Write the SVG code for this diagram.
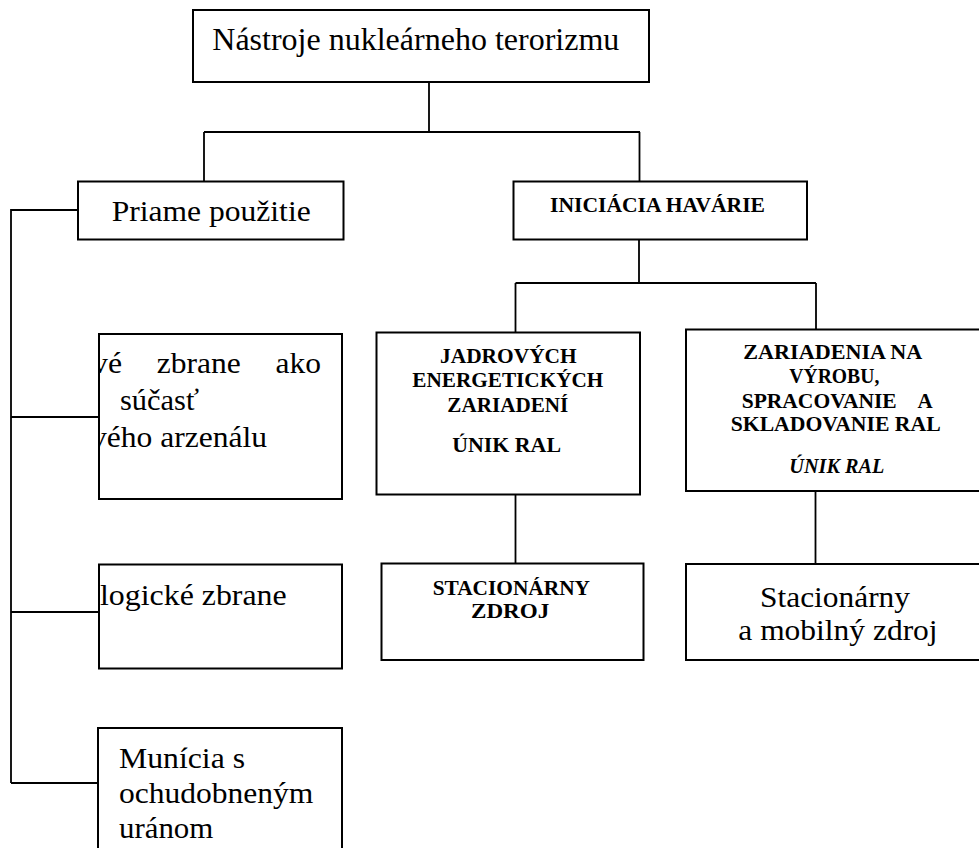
<svg xmlns="http://www.w3.org/2000/svg" width="979" height="848" viewBox="0 0 979 848">
<style>
.box{fill:#fff;stroke:#000;stroke-width:2}
.con{fill:none;stroke:#000;stroke-width:1.8}
.r{font-family:"Liberation Serif","Times New Roman",serif;font-size:30px;fill:#000}
.t{font-family:"Liberation Serif","Times New Roman",serif;font-size:31px;fill:#000}
.b{font-family:"Liberation Serif","Times New Roman",serif;font-size:21px;font-weight:bold;fill:#000}
.bi{font-family:"Liberation Serif","Times New Roman",serif;font-size:21px;font-weight:bold;font-style:italic;fill:#000}
</style>
<defs>
<clipPath id="clip1"><rect x="99" y="334" width="243" height="165"/></clipPath>
</defs>
<rect width="979" height="848" fill="#fff"/>
<g id="connectors">
<path class="con" d="M429 82 V132 M204 132 H640 M204 132 V181.5 M639.5 132 V181.5"/>
<path class="con" d="M78 210 H11 V783 M11 417 H99 M11 612 H99 M11 783 H98"/>
<path class="con" d="M639 239.5 V283 M515.5 283 H816 M515.5 283 V332.5 M816 283 V329.5"/>
<path class="con" d="M515.5 494.5 V563.5 M815.5 491 V564"/>
</g>
<g id="n-top">
<rect class="box" x="193" y="10" width="456" height="72"/>
<text class="t" x="212.3" y="50" textLength="407" lengthAdjust="spacingAndGlyphs">Nástroje nukleárneho terorizmu</text>
</g>
<g id="n-priame">
<rect class="box" x="78" y="181.5" width="265.5" height="58"/>
<text class="r" x="111.7" y="220.5" textLength="199" lengthAdjust="spacingAndGlyphs">Priame použitie</text>
</g>
<g id="n-iniciacia">
<rect class="box" x="513.5" y="181.5" width="293.5" height="58"/>
<text class="b" x="550" y="211.7" textLength="215" lengthAdjust="spacingAndGlyphs">INICIÁCIA HAVÁRIE</text>
</g>
<g id="n-jadrovych">
<rect class="box" x="376.5" y="332.5" width="263.5" height="162"/>
<text class="b" x="440" y="363.3" textLength="136.7" lengthAdjust="spacingAndGlyphs">JADROVÝCH</text>
<text class="b" x="412.3" y="387.3" textLength="191" lengthAdjust="spacingAndGlyphs">ENERGETICKÝCH</text>
<text class="b" x="447.3" y="411.7" textLength="121" lengthAdjust="spacingAndGlyphs">ZARIADENÍ</text>
<text class="b" x="452.3" y="451.7" textLength="108.7" lengthAdjust="spacingAndGlyphs">ÚNIK RAL</text>
</g>
<g id="n-zariadenia">
<rect class="box" x="686" y="329.5" width="310" height="161.5"/>
<text class="b" x="743.3" y="358.5" textLength="179" lengthAdjust="spacingAndGlyphs">ZARIADENIA NA</text>
<text class="b" x="789.3" y="382.7" textLength="90" lengthAdjust="spacingAndGlyphs">VÝROBU,</text>
<text class="b" x="741.7" y="408" textLength="155" lengthAdjust="spacingAndGlyphs">SPRACOVANIE</text>
<text class="b" x="917.5" y="408">A</text>
<text class="b" x="730.7" y="430.7" textLength="210" lengthAdjust="spacingAndGlyphs">SKLADOVANIE RAL</text>
<text class="bi" x="789.3" y="473.3" textLength="95" lengthAdjust="spacingAndGlyphs">ÚNIK RAL</text>
</g>
<g id="n-stac1">
<rect class="box" x="381.5" y="563.5" width="262" height="96.5"/>
<text class="b" x="432.7" y="595" textLength="157.3" lengthAdjust="spacingAndGlyphs">STACIONÁRNY</text>
<text class="b" x="471" y="618.3" textLength="78.3" lengthAdjust="spacingAndGlyphs">ZDROJ</text>
</g>
<g id="n-stac2">
<rect class="box" x="686" y="564" width="310" height="96"/>
<text class="r" x="760" y="606.7" textLength="150" lengthAdjust="spacingAndGlyphs">Stacionárny</text>
<text class="r" x="738.3" y="640" textLength="199.3" lengthAdjust="spacingAndGlyphs">a mobilný zdroj</text>
</g>
<g id="n-box1">
<rect class="box" x="99" y="334" width="243" height="165"/>
<g clip-path="url(#clip1)">
<text class="r" x="92" y="373.3" textLength="30" lengthAdjust="spacingAndGlyphs">vé</text>
<text class="r" x="156.7" y="373.3" textLength="84" lengthAdjust="spacingAndGlyphs">zbrane</text>
<text class="r" x="275.5" y="373.3" textLength="45.5" lengthAdjust="spacingAndGlyphs">ako</text>
<text class="r" x="120" y="410" textLength="79" lengthAdjust="spacingAndGlyphs">súčasť</text>
<text class="r" x="91" y="446.7" textLength="176" lengthAdjust="spacingAndGlyphs">vého arzenálu</text>
</g>
</g>
<g id="n-box2">
<rect class="box" x="99" y="564.5" width="243" height="104"/>
<text class="r" x="100" y="605" textLength="186.7" lengthAdjust="spacingAndGlyphs">logické zbrane</text>
</g>
<g id="n-box3">
<rect class="box" x="98" y="728" width="244" height="140"/>
<text class="r" x="119" y="768.3" textLength="126" lengthAdjust="spacingAndGlyphs">Munícia s</text>
<text class="r" x="119" y="803.3" textLength="194.3" lengthAdjust="spacingAndGlyphs">ochudobneným</text>
<text class="r" x="119" y="838.3" textLength="94.3" lengthAdjust="spacingAndGlyphs">uránom</text>
</g>
</svg>
